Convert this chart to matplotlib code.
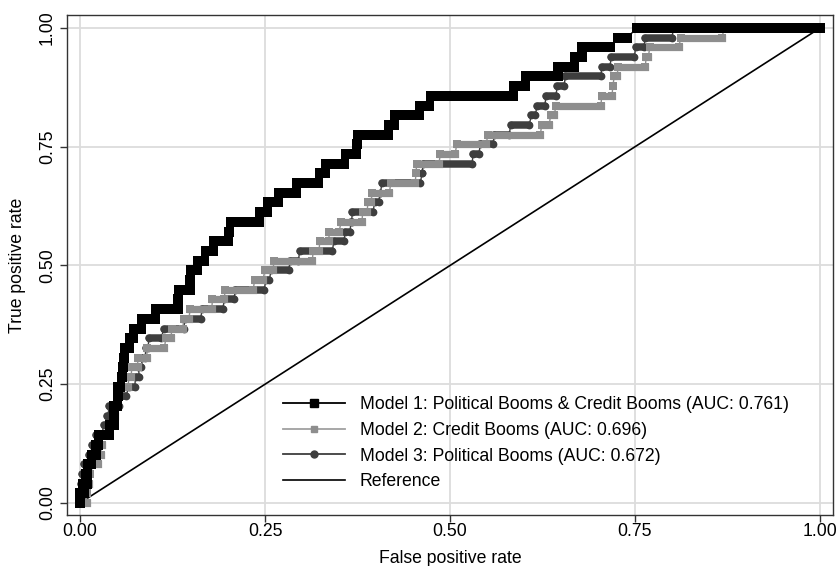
import matplotlib
matplotlib.use("Agg")
import matplotlib.pyplot as plt
from matplotlib.lines import Line2D

plt.rcParams['font.family'] = ['Liberation Sans', 'DejaVu Sans']

# True positive rate levels (49 positive cases)
tpr_levels = [0.0000, 0.0204, 0.0408, 0.0612, 0.0816, 0.1020, 0.1224, 0.1429, 0.1633, 0.1837,
              0.2041, 0.2245, 0.2449, 0.2653, 0.2857, 0.3061, 0.3265, 0.3469, 0.3673, 0.3878,
              0.4082, 0.4286, 0.4490, 0.4694, 0.4898, 0.5102, 0.5306, 0.5510, 0.5714, 0.5918,
              0.6122, 0.6327, 0.6531, 0.6735, 0.6939, 0.7143, 0.7347, 0.7551, 0.7755, 0.7959,
              0.8163, 0.8367, 0.8571, 0.8776, 0.8980, 0.9184, 0.9388, 0.9592, 0.9796, 1.0000]

# Model 1: Political Booms & Credit Booms -- false positive rate span at each TPR level
m1_fpr_from = [0.000, 0.000, 0.004, 0.008, 0.011, 0.016, 0.022, 0.026, 0.041, 0.046,
               0.046, 0.051, 0.051, 0.057, 0.058, 0.059, 0.061, 0.068, 0.073, 0.084,
               0.103, 0.132, 0.134, 0.149, 0.150, 0.159, 0.170, 0.181, 0.201, 0.204,
               0.243, 0.254, 0.269, 0.293, 0.324, 0.332, 0.359, 0.374, 0.376, 0.418,
               0.426, 0.459, 0.474, 0.586, 0.603, 0.646, 0.669, 0.678, 0.727, 0.753]
m1_fpr_to = [0.000, 0.005, 0.009, 0.009, 0.015, 0.022, 0.024, 0.039, 0.046, 0.046,
             0.050, 0.051, 0.054, 0.057, 0.058, 0.059, 0.066, 0.072, 0.082, 0.101,
             0.132, 0.132, 0.149, 0.149, 0.158, 0.168, 0.180, 0.200, 0.201, 0.242,
             0.253, 0.268, 0.292, 0.322, 0.331, 0.357, 0.373, 0.374, 0.416, 0.424,
             0.458, 0.472, 0.585, 0.601, 0.646, 0.668, 0.678, 0.716, 0.739, 1.000]

# Model 2: Credit Booms
m2_fpr_from = [0.000, 0.009, 0.011, 0.013, 0.018, 0.025, 0.029, 0.030, 0.040, 0.045,
               0.048, 0.052, 0.055, 0.066, 0.070, 0.078, 0.091, 0.116, 0.124, 0.140,
               0.149, 0.179, 0.196, 0.236, 0.250, 0.262, 0.315, 0.324, 0.337, 0.353,
               0.382, 0.389, 0.395, 0.420, 0.454, 0.455, 0.487, 0.509, 0.551, 0.624,
               0.636, 0.643, 0.705, 0.720, 0.722, 0.727, 0.765, 0.770, 0.812, 0.870]
m2_fpr_to = [0.009, 0.010, 0.012, 0.014, 0.024, 0.028, 0.030, 0.036, 0.044, 0.047,
             0.050, 0.053, 0.065, 0.069, 0.078, 0.090, 0.114, 0.123, 0.139, 0.147,
             0.178, 0.195, 0.234, 0.247, 0.261, 0.314, 0.323, 0.336, 0.350, 0.381,
             0.388, 0.393, 0.418, 0.453, 0.454, 0.485, 0.507, 0.549, 0.622, 0.634,
             0.641, 0.704, 0.719, 0.720, 0.726, 0.764, 0.768, 0.809, 0.868, 1.000]

# Model 3: Political Booms
m3_fpr_from = [0.000, 0.000, 0.001, 0.003, 0.006, 0.012, 0.016, 0.022, 0.033, 0.036,
               0.039, 0.056, 0.066, 0.075, 0.079, 0.084, 0.089, 0.093, 0.113, 0.142,
               0.165, 0.195, 0.210, 0.251, 0.258, 0.284, 0.297, 0.343, 0.358, 0.366,
               0.368, 0.398, 0.405, 0.408, 0.462, 0.464, 0.531, 0.541, 0.560, 0.582,
               0.610, 0.618, 0.630, 0.645, 0.656, 0.705, 0.718, 0.751, 0.764, 0.802]
m3_fpr_to = [0.000, 0.001, 0.003, 0.005, 0.010, 0.015, 0.020, 0.028, 0.035, 0.038,
             0.053, 0.062, 0.074, 0.080, 0.083, 0.088, 0.092, 0.110, 0.140, 0.163,
             0.193, 0.208, 0.249, 0.256, 0.282, 0.295, 0.341, 0.357, 0.365, 0.367,
             0.396, 0.404, 0.406, 0.460, 0.462, 0.530, 0.539, 0.558, 0.580, 0.607,
             0.615, 0.628, 0.643, 0.654, 0.704, 0.716, 0.749, 0.762, 0.800, 1.000]

ref_x = [0.0, 1.0]
ref_y = [0.0, 1.0]

labels = ["Model 1: Political Booms & Credit Booms (AUC: 0.761)",
          "Model 2: Credit Booms (AUC: 0.696)",
          "Model 3: Political Booms (AUC: 0.672)",
          "Reference"]
ticks = [0.0, 0.25, 0.5, 0.75, 1.0]
tick_labels = ["0.00", "0.25", "0.50", "0.75", "1.00"]

c1, c2, c3 = "#000000", "#8e8e8e", "#3e3e3e"

fig = plt.figure(figsize=(8.39, 5.66), dpi=100)
ax = fig.add_axes([67/839, 1-515/566, 766/839, 500/566])


def draw_model(fpr_from, fpr_to, color, marker, ms, lw_bar, cap, z):
    xs, ys = [], []
    for a, b, t in zip(fpr_from, fpr_to, tpr_levels):
        xs += [a, b]
        ys += [t, t]
    ax.plot(xs, ys, color=color, lw=1.0, zorder=z)
    lc = ax.hlines(tpr_levels, fpr_from, fpr_to, colors=color, linewidths=lw_bar, zorder=z)
    lc.set_capstyle(cap)
    ax.plot(xs, ys, ls='none', marker=marker, ms=ms, color=color, mec=color, mew=0, zorder=z)


ax.plot(ref_x, ref_y, color="black", lw=1.2, zorder=2)
draw_model(m3_fpr_from, m3_fpr_to, c3, 'o', 5.6, 5.4, 'round', 3)
draw_model(m2_fpr_from, m2_fpr_to, c2, 's', 5.2, 5.2, 'projecting', 4)
draw_model(m1_fpr_from, m1_fpr_to, c1, 's', 7.2, 7.2, 'projecting', 5)

ax.set_xlim(-0.0176, 1.0176)
ax.set_ylim(-0.0253, 1.0274)
ax.set_xticks(ticks)
ax.set_xticklabels(tick_labels)
ax.set_yticks(ticks)
ax.set_yticklabels(tick_labels, rotation=90, va='center')
ax.grid(True, color="#dcdcdc", lw=1.3, zorder=0)
ax.set_axisbelow(True)
ax.tick_params(direction='out', length=5, width=1, colors='#333333', labelsize=12.7, labelcolor='black')
ax.tick_params(axis='x', pad=1)
ax.tick_params(axis='y', pad=3)
for s in ax.spines.values():
    s.set_color('#333333')
    s.set_linewidth(1.0)
ax.set_xlabel("False positive rate", fontsize=12.7, labelpad=7)
ax.set_ylabel("True positive rate", fontsize=12.7, labelpad=9)

handles = [Line2D([], [], color=c1, lw=1.3, marker='s', ms=6),
           Line2D([], [], color="#a0a0a0", lw=1.3, marker='s', ms=5, mfc=c2, mec=c2),
           Line2D([], [], color=c3, lw=1.3, marker='o', ms=5),
           Line2D([], [], color="black", lw=1.2)]
ax.legend(handles, labels, loc='upper left', bbox_to_anchor=(0.282, 0.238),
          frameon=False, fontsize=12.7, handlelength=3.5, handletextpad=0.85,
          labelspacing=0.5, borderpad=0, borderaxespad=0, numpoints=1)

fig.savefig("out.png", dpi=100)
